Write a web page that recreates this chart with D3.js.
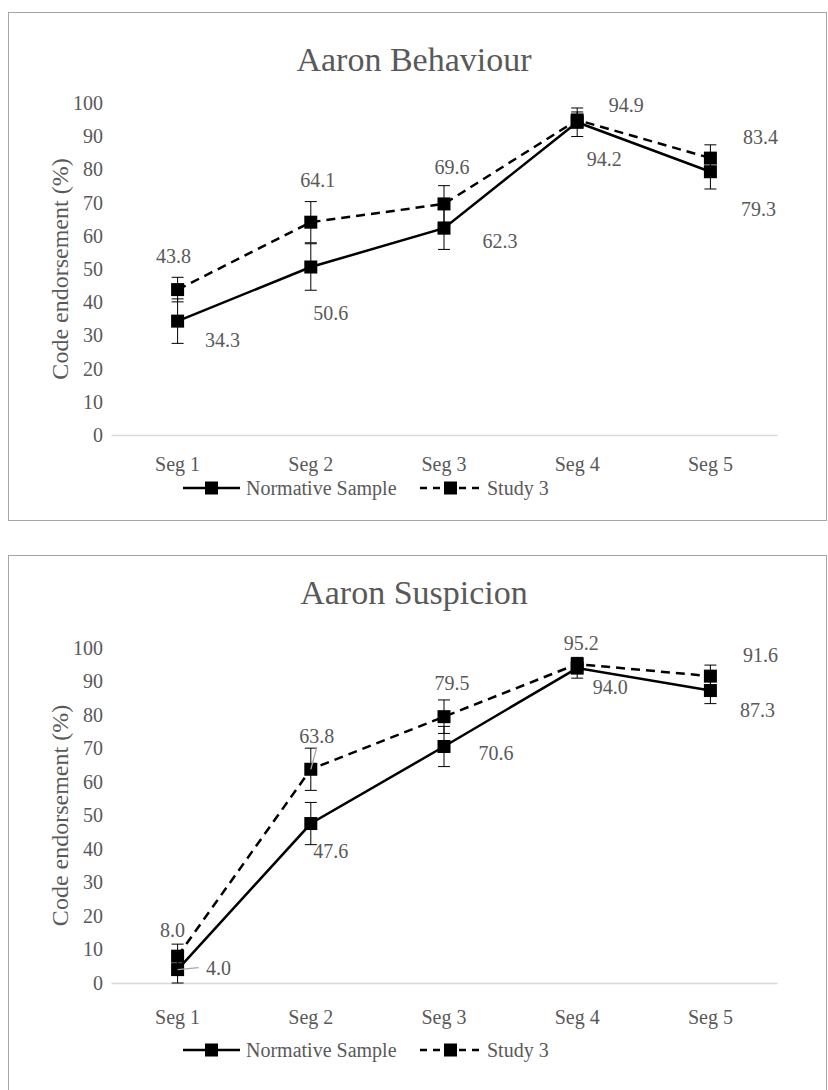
<!DOCTYPE html>
<html>
<head>
<meta charset="utf-8">
<script src="https://cdn.jsdelivr.net/npm/d3@7/dist/d3.min.js"></script>
<style>
  html, body { margin: 0; padding: 0; background: #fff; }
  svg { display: block; }
</style>
</head>
<body>
<svg id="chart" width="828" height="1090"></svg>
<script>
const FONT = "Liberation Serif";
const TEXT_COLOR = "#595959";

// Segment categories shared by both panels
const segments = ["Seg 1", "Seg 2", "Seg 3", "Seg 4", "Seg 5"];
const yTicks = [0, 10, 20, 30, 40, 50, 60, 70, 80, 90, 100];
const seriesNames = ["Normative Sample", "Study 3"];

// Aaron Behaviour: code endorsement (%) per segment, with error amounts
const behaviourNormative = [34.3, 50.6, 62.3, 94.2, 79.3];
const behaviourStudy3 = [43.8, 64.1, 69.6, 94.9, 83.4];
const behaviourNormativeErr = [6.7, 7.0, 6.4, 4.3, 5.2];
const behaviourStudy3Err = [3.7, 6.2, 5.5, 2.4, 4.0];

// Aaron Suspicion: code endorsement (%) per segment, with error amounts
const suspicionNormative = [4.0, 47.6, 70.6, 94.0, 87.3];
const suspicionStudy3 = [8.0, 63.8, 79.5, 95.2, 91.6];
const suspicionNormativeErr = [4.0, 6.3, 6.0, 3.0, 3.9];
const suspicionStudy3Err = [3.6, 6.3, 5.0, 2.0, 3.3];

// Data label placement: pixel offsets of each label from its marker
const behaviourLabelOffsets = {
  normative: [[45, 19], [20, 46], [56, 13], [27, 37], [48, 37]],
  study3: [[-4, -34], [7, -42], [8, -37], [49, -15], [50, -21]]
};
const suspicionLabelOffsets = {
  normative: [[41, -2], [20, 27], [52, 7], [33, 19], [47, 19]],
  study3: [[-5, -26], [6, -33], [8, -34], [4, -21], [50, -21]]
};
// labels joined to their marker by a leader line
const suspicionLeaders = { normative: [0], study3: [1] };

// Per-panel frame layout (relative to the panel's top edge)
const behaviourLayout = { top: 12, height: 508, titleY: 59, yMax: 91, yMin: 423, segPad: 34, legendY: 476 };
const suspicionLayout = { top: 555, height: 545, titleY: 49, yMax: 93, yMin: 428, segPad: 39, legendY: 495 };

const svg = d3.select("#chart");

function styleText(sel, size) {
  sel.attr("font-family", null)
    .style("font-family", FONT)
    .style("font-size", size + "px")
    .attr("fill", TEXT_COLOR);
}

function drawPanel(L, title, normative, study3, normErr, studyErr, offsets, leaders) {
  const g = svg.append("g").attr("transform", `translate(0,${L.top})`);

  // chart frame
  g.append("rect")
    .attr("x", 8.5).attr("y", 0.5)
    .attr("width", 818).attr("height", L.height)
    .attr("fill", "#fff").attr("stroke", "#a6a6a6").attr("stroke-width", 1);

  styleText(g.append("text")
    .attr("x", 414).attr("y", L.titleY)
    .attr("text-anchor", "middle")
    .text(title), 34);

  const x = d3.scaleBand().domain(segments).range([111, 777]);
  const y = d3.scaleLinear().domain([0, 100]).range([L.yMin, L.yMax]);
  const cx = d => x(d) + x.bandwidth() / 2;

  // y axis: labels only
  const yAxis = g.append("g")
    .attr("transform", "translate(105,0)")
    .call(d3.axisLeft(y).tickValues(yTicks).tickSize(0).tickPadding(2));
  yAxis.attr("font-family", null);
  yAxis.select(".domain").remove();
  styleText(yAxis.selectAll("text"), 20);

  // x axis: gray baseline with category labels
  const xAxis = g.append("g")
    .attr("transform", `translate(0,${y(0)})`)
    .call(d3.axisBottom(x).tickSize(0).tickPadding(L.segPad - 12).tickSizeOuter(0));
  xAxis.attr("font-family", null);
  xAxis.select(".domain").attr("stroke", "#d9d9d9").attr("stroke-width", 1.3);
  styleText(xAxis.selectAll("text"), 20);

  styleText(g.append("text")
    .attr("transform", `translate(68,${(y(0) + y(100)) / 2}) rotate(-90)`)
    .attr("text-anchor", "middle")
    .text("Code endorsement (%)"), 24);

  const series = [
    { key: "normative", values: normative, err: normErr, dash: null },
    { key: "study3", values: study3, err: studyErr, dash: "9,6" }
  ];

  const line = d3.line().x((d, i) => cx(segments[i])).y(d => y(d));

  // error bars
  series.forEach(s => {
    const eb = g.append("g");
    s.values.forEach((v, i) => {
      const px = cx(segments[i]);
      const lo = y(Math.max(0, v - s.err[i])), hi = y(v + s.err[i]);
      eb.append("line").attr("x1", px).attr("x2", px).attr("y1", lo).attr("y2", hi)
        .attr("stroke", "#000").attr("stroke-width", 1);
      [lo, hi].forEach(yy => eb.append("line")
        .attr("x1", px - 6).attr("x2", px + 6).attr("y1", yy).attr("y2", yy)
        .attr("stroke", "#000").attr("stroke-width", 1));
    });
  });

  // lines and square markers
  series.forEach(s => {
    g.append("path").datum(s.values)
      .attr("d", line).attr("fill", "none")
      .attr("stroke", "#000").attr("stroke-width", 2.5)
      .attr("stroke-dasharray", s.dash);
    g.selectAll(null).data(s.values).enter().append("rect")
      .attr("x", (d, i) => cx(segments[i]) - 6.5)
      .attr("y", d => y(d) - 6.5)
      .attr("width", 13).attr("height", 13)
      .attr("fill", "#000");
  });

  // data labels
  series.forEach(s => {
    s.values.forEach((v, i) => {
      const px = cx(segments[i]), py = y(v);
      const [dx, dy] = offsets[s.key][i];
      if (leaders && leaders[s.key] && leaders[s.key].includes(i)) {
        const lx = dx > 20 ? px + dx - 20 : px + dx;
        const ly = dy < -20 ? py + dy + 11 : py + dy;
        g.append("line").attr("x1", px).attr("y1", py).attr("x2", lx).attr("y2", ly)
          .attr("stroke", "#a6a6a6").attr("stroke-width", 1.3);
      }
      styleText(g.append("text")
        .attr("x", px + dx).attr("y", py + dy)
        .attr("text-anchor", "middle").attr("dominant-baseline", "central")
        .text(v.toFixed(1)), 20);
    });
  });

  // legend
  const ly = L.legendY;
  const leg = g.append("g");
  leg.append("line").attr("x1", 183).attr("x2", 240).attr("y1", ly).attr("y2", ly)
    .attr("stroke", "#000").attr("stroke-width", 2.5);
  leg.append("rect").attr("x", 205).attr("y", ly - 6.5).attr("width", 13).attr("height", 13).attr("fill", "#000");
  styleText(leg.append("text").attr("x", 246).attr("y", ly).attr("dominant-baseline", "central")
    .text(seriesNames[0]), 20);
  leg.append("line").attr("x1", 420).attr("x2", 480).attr("y1", ly).attr("y2", ly)
    .attr("stroke", "#000").attr("stroke-width", 2.5).attr("stroke-dasharray", "7,6");
  leg.append("rect").attr("x", 444).attr("y", ly - 6.5).attr("width", 13).attr("height", 13).attr("fill", "#000");
  styleText(leg.append("text").attr("x", 487).attr("y", ly).attr("dominant-baseline", "central")
    .text(seriesNames[1]), 20);
}

drawPanel(behaviourLayout, "Aaron Behaviour", behaviourNormative, behaviourStudy3,
  behaviourNormativeErr, behaviourStudy3Err, behaviourLabelOffsets, null);
drawPanel(suspicionLayout, "Aaron Suspicion", suspicionNormative, suspicionStudy3,
  suspicionNormativeErr, suspicionStudy3Err, suspicionLabelOffsets, suspicionLeaders);
</script>
</body>
</html>
